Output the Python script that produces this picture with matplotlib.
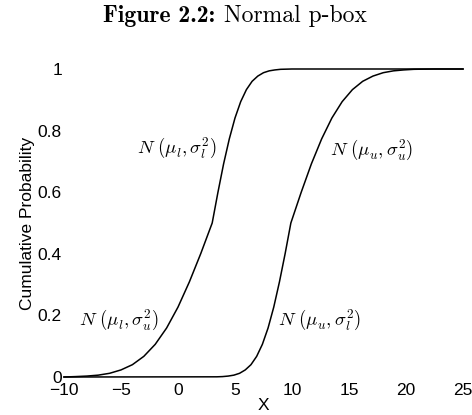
import matplotlib
matplotlib.use("Agg")
import matplotlib.pyplot as plt

# lower bound: N(mu_l, sigma_u^2) below the median, N(mu_l, sigma_l^2) above
left_x = [-10, -9, -8, -7, -6, -5, -4, -3, -2, -1, 0, 1, 2, 3,
          3.5, 4, 4.5, 5, 5.5, 6, 6.5, 7, 7.5, 8, 8.5, 9, 10, 25]
left_p = [0.0, 0.0013, 0.003, 0.006, 0.012, 0.023, 0.040, 0.067, 0.106, 0.159,
          0.227, 0.309, 0.401, 0.5,
          0.599, 0.692, 0.773, 0.841, 0.894, 0.933, 0.960, 0.977, 0.988, 0.994,
          0.997, 0.999, 1.0, 1.0]

# upper bound: N(mu_u, sigma_l^2) below the median, N(mu_u, sigma_u^2) above
right_x = [-10, 3.4, 3.9, 4.4, 4.9, 5.4, 5.9, 6.4, 6.9, 7.4, 7.9, 8.4, 8.9, 9.4, 9.9,
           10.8, 11.7, 12.6, 13.5, 14.4, 15.3, 16.2, 17.1, 18.0, 18.9, 19.8, 20.7,
           22.5, 25]
right_p = [0.0, 0.0006, 0.0013, 0.003, 0.006, 0.012, 0.023, 0.040, 0.067, 0.106,
           0.159, 0.227, 0.309, 0.401, 0.5,
           0.599, 0.692, 0.773, 0.841, 0.894, 0.933, 0.960, 0.977, 0.988, 0.994,
           0.997, 0.999, 1.0, 1.0]

x_ticks = [-10, -5, 0, 5, 10, 15, 20, 25]
y_ticks = [0, 0.2, 0.4, 0.6, 0.8, 1]
y_tick_labels = ["0", "0.2", "0.4", "0.6", "0.8", "1"]

# (text, x, y, ha)
labels = [
    (r"$N\ (\mu_l,\sigma_l^2)$", 3.4, 0.743, "right"),
    (r"$N\ (\mu_l,\sigma_u^2)$", -8.7, 0.185, "left"),
    (r"$N\ (\mu_u,\sigma_u^2)$", 13.3, 0.737, "left"),
    (r"$N\ (\mu_u,\sigma_l^2)$", 8.8, 0.185, "left"),
]

plt.rcParams["font.family"] = ["Liberation Sans", "DejaVu Sans"]
plt.rcParams["mathtext.fontset"] = "cm"

fig = plt.figure(figsize=(4.72, 4.15), dpi=100)
ax = fig.add_axes([64 / 472, 1 - 377 / 415, 399 / 472, 308 / 415])

ax.plot(left_x, left_p, color="black", lw=1.1, clip_on=False)
ax.plot(right_x, right_p, color="black", lw=1.1, clip_on=False)

ax.set_xlim(-10, 25)
ax.set_ylim(0, 1)
ax.set_xticks(x_ticks)
ax.set_yticks(y_ticks)
ax.set_yticklabels(y_tick_labels)
ax.tick_params(length=0, labelsize=12.5)
ax.tick_params(axis="y", pad=1.5)
ax.tick_params(axis="x", pad=4)
for s in ax.spines.values():
    s.set_visible(False)

ax.set_xlabel("X", fontsize=12.5, labelpad=0)
ax.set_ylabel("Cumulative Probability", fontsize=12.5, labelpad=2)

for txt, x, y, ha in labels:
    ax.text(x, y, txt, ha=ha, va="center", fontsize=13.5)

# title in two parts: bold "Figure 2.2:" then roman "Normal p-box"
t1 = fig.text(103 / 472, 1 - 16 / 415, "Figure 2.2:", fontfamily="cmb10",
              fontsize=17, ha="left", va="center")
fig.canvas.draw()
bb = t1.get_window_extent()
fig.text((bb.x1 + 9) / 472, 1 - 16 / 415, "Normal p-box", fontfamily="cmr10",
         fontsize=17, ha="left", va="center")

fig.savefig("out.png", dpi=100)
